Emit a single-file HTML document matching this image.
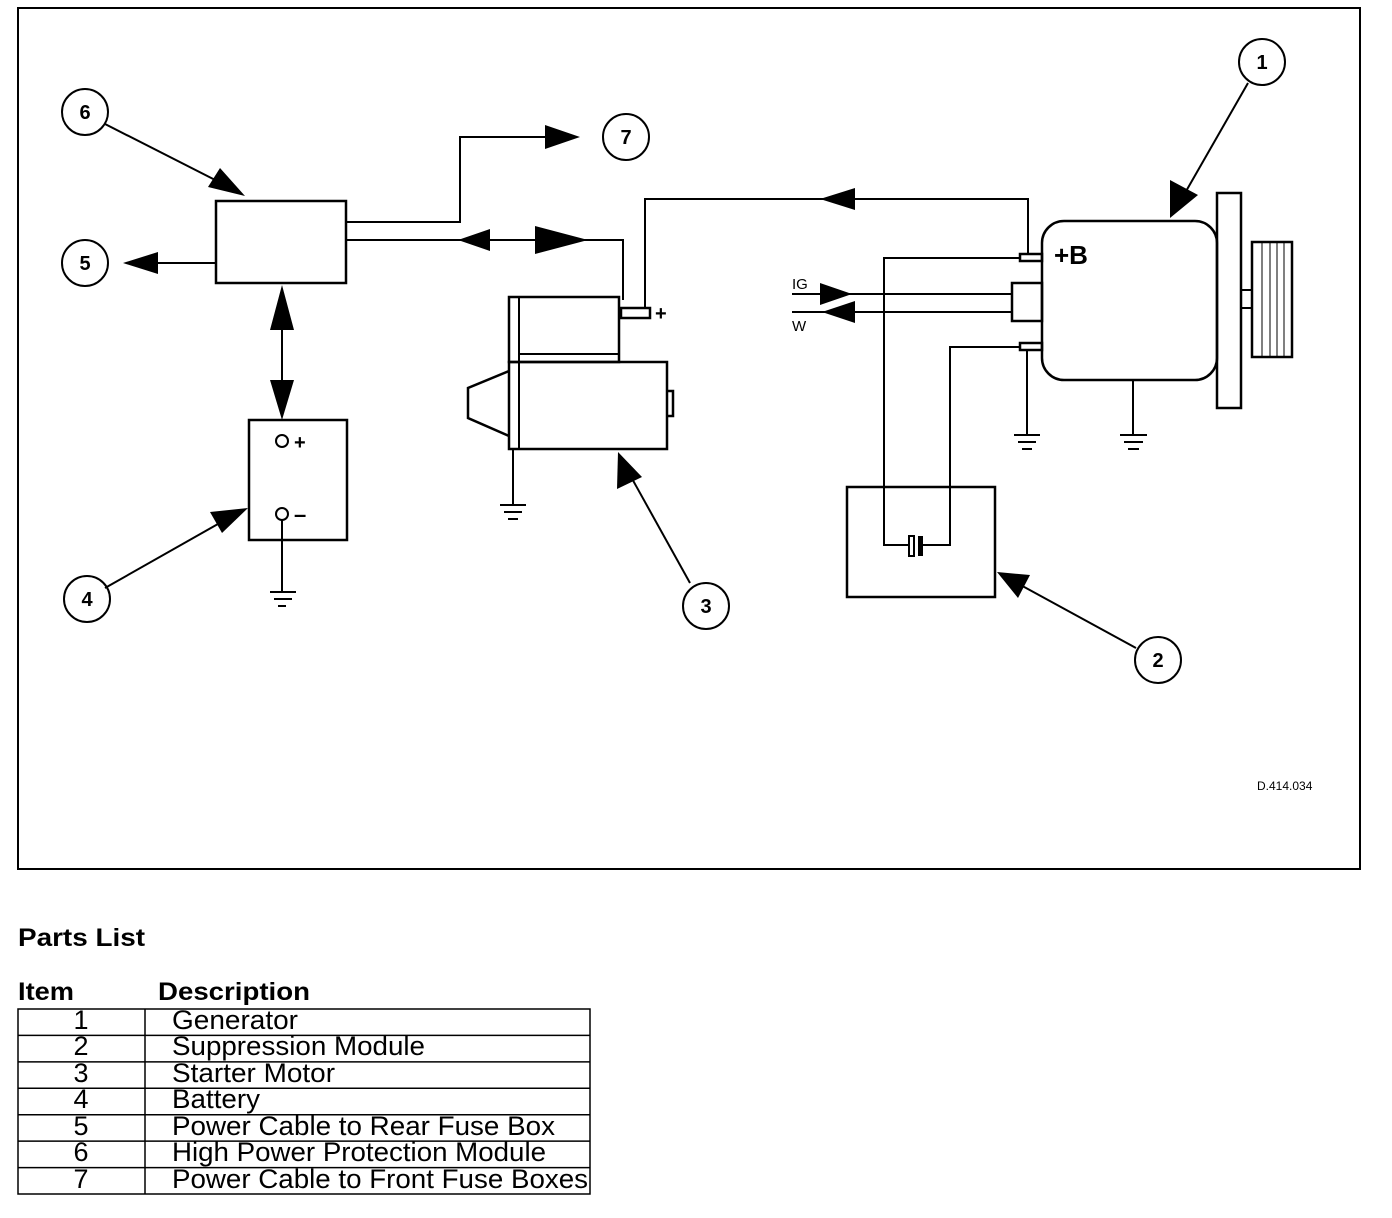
<!DOCTYPE html>
<html><head><meta charset="utf-8"><style>
html,body{margin:0;padding:0;background:#fff;}
svg{display:block;}
text{font-family:"Liberation Sans",Arial,sans-serif;fill:#000;}
</style></head><body>
<svg width="1392" height="1218" viewBox="0 0 1392 1218" xmlns="http://www.w3.org/2000/svg">
<rect x="0" y="0" width="1392" height="1218" fill="#fff"/>
<rect x="18" y="8" width="1342" height="861" fill="none" stroke="#000" stroke-width="2"/>
<g fill="none" stroke="#000" stroke-width="2">
<circle cx="1262" cy="62" r="23"/><circle cx="1158" cy="660" r="23"/><circle cx="706" cy="606" r="23"/>
<circle cx="87" cy="599" r="23"/><circle cx="85" cy="263" r="23"/><circle cx="85" cy="112" r="23"/><circle cx="626" cy="137" r="23"/>
<rect x="216" y="201" width="130" height="82" stroke-width="2.5"/>
<polyline points="346,222 460,222 460,137 560,137"/>
<polyline points="346,240 623,240 623,300"/>
<line x1="216" y1="263" x2="140" y2="263"/>
<line x1="282" y1="300" x2="282" y2="405"/>
<rect x="249" y="420" width="98" height="120" stroke-width="2.5"/>
<circle cx="282" cy="441" r="6"/><circle cx="282" cy="514" r="6"/>
<line x1="282" y1="520" x2="282" y2="592"/>
<rect x="509" y="297" width="110" height="65" stroke-width="2.5"/>
<line x1="519" y1="297" x2="519" y2="449"/>
<line x1="519" y1="354" x2="619" y2="354"/>
<rect x="509" y="362" width="158" height="87" stroke-width="2.5"/>
<polyline points="509,371 468,388 468,418 509,436" stroke-width="2.5"/>
<polyline points="667,391 673,391 673,416 667,416" stroke-width="2.5"/>
<rect x="621" y="308" width="29" height="10" stroke-width="2.5"/>
<polyline points="645,308 645,199 1028,199 1028,254"/>
<line x1="513" y1="449" x2="513" y2="505"/>
<rect x="1042" y="221" width="175" height="159" rx="22" stroke-width="2.5"/>
<rect x="1217" y="193" width="24" height="215" stroke-width="2.5"/>
<rect x="1252" y="242" width="40" height="115" stroke-width="2.5"/>
<line x1="1262" y1="242" x2="1262" y2="357" stroke-width="1"/><line x1="1270" y1="242" x2="1270" y2="357" stroke-width="1"/>
<line x1="1277" y1="242" x2="1277" y2="357" stroke-width="1"/><line x1="1284" y1="242" x2="1284" y2="357" stroke-width="1"/>
<rect x="1241" y="290" width="11" height="18" stroke-width="2"/>
<rect x="1020" y="254" width="22" height="7" stroke-width="2.5"/>
<rect x="1012" y="283" width="30" height="38" stroke-width="2.5"/>
<rect x="1020" y="343" width="22" height="7" stroke-width="2.5"/>
<polyline points="1020,258 884,258 884,545 908,545"/>
<polyline points="1020,347 950,347 950,545 922,545"/>
<rect x="909" y="536" width="5" height="20" stroke-width="2"/>
<line x1="792" y1="294" x2="1012" y2="294"/>
<line x1="792" y1="312" x2="1012" y2="312"/>
<line x1="1027" y1="350" x2="1027" y2="435"/>
<line x1="1133" y1="380" x2="1133" y2="435"/>
<rect x="847" y="487" width="148" height="110" stroke-width="2.5"/>
<line x1="1248" y1="83" x2="1185" y2="193"/>
<line x1="1136" y1="648" x2="1015" y2="582"/>
<line x1="690" y1="583" x2="630" y2="475"/>
<line x1="105" y1="588" x2="225" y2="520"/>
<line x1="105" y1="124" x2="225" y2="185"/>
<g stroke-width="2">
<line x1="270" y1="592" x2="296" y2="592"/><line x1="274" y1="599" x2="292" y2="599"/><line x1="278" y1="606" x2="286" y2="606"/>
<line x1="500" y1="505" x2="526" y2="505"/><line x1="504" y1="512" x2="522" y2="512"/><line x1="508" y1="519" x2="518" y2="519"/>
<line x1="1014" y1="435" x2="1040" y2="435"/><line x1="1018" y1="442" x2="1036" y2="442"/><line x1="1022" y1="449" x2="1032" y2="449"/>
<line x1="1120" y1="435" x2="1147" y2="435"/><line x1="1124" y1="442" x2="1143" y2="442"/><line x1="1128" y1="449" x2="1139" y2="449"/>
</g>
</g>
<g fill="#000">
<rect x="918" y="536" width="5" height="20"/>
<polygon points="580,137 545,125 545,149"/>
<polygon points="123,263 158,252 158,274"/>
<polygon points="458,240 490,229 490,251"/>
<polygon points="588,240 535,226 535,254"/>
<polygon points="282,285 270,330 294,330"/>
<polygon points="282,420 270,380 294,380"/>
<polygon points="820,199 855,188 855,210"/>
<polygon points="852,294 820,283 820,305"/>
<polygon points="822,312 855,301 855,323"/>
<polygon points="1170,218 1170,180 1198,195"/>
<polygon points="997,572 1030,575 1018,598"/>
<polygon points="618,452 617,489 642,477"/>
<polygon points="248,508 210,512 222,533"/>
<polygon points="245,196 208,187 220,168"/>
</g>
<g font-weight="bold" font-size="20" text-anchor="middle">
<text x="1262" y="69">1</text><text x="1158" y="667">2</text><text x="706" y="613">3</text>
<text x="87" y="606">4</text><text x="85" y="270">5</text><text x="85" y="119">6</text><text x="626" y="144">7</text>
</g>
<text x="1054" y="264" font-size="26" font-weight="bold">+B</text>
<text x="294" y="449" font-size="20" font-weight="bold">+</text>
<text x="294" y="522" font-size="22" font-weight="bold">–</text>
<text x="655" y="320" font-size="20" font-weight="bold">+</text>
<text x="792" y="289" font-size="15">IG</text>
<text x="792" y="331" font-size="15">W</text>
<text x="1257" y="790" font-size="12">D.414.034</text>
<text x="18" y="946" font-size="25" font-weight="bold" textLength="127" lengthAdjust="spacingAndGlyphs">Parts List</text>
<text x="18" y="1000" font-size="25" font-weight="bold" textLength="56" lengthAdjust="spacingAndGlyphs">Item</text>
<text x="158" y="1000" font-size="25" font-weight="bold" textLength="152" lengthAdjust="spacingAndGlyphs">Description</text>
<g fill="none" stroke="#000" stroke-width="1.5">
<rect x="18" y="1009" width="572" height="185"/>
<line x1="145" y1="1009" x2="145" y2="1194"/>
<line x1="18" y1="1035.4" x2="590" y2="1035.4"/><line x1="18" y1="1061.9" x2="590" y2="1061.9"/>
<line x1="18" y1="1088.3" x2="590" y2="1088.3"/><line x1="18" y1="1114.7" x2="590" y2="1114.7"/>
<line x1="18" y1="1141.1" x2="590" y2="1141.1"/><line x1="18" y1="1167.6" x2="590" y2="1167.6"/>
</g>
<g font-size="27" lengthAdjust="spacingAndGlyphs">
<text x="81" y="1029" text-anchor="middle">1</text><text x="172" y="1029" textLength="126" lengthAdjust="spacingAndGlyphs">Generator</text>
<text x="81" y="1055" text-anchor="middle">2</text><text x="172" y="1055" textLength="253" lengthAdjust="spacingAndGlyphs">Suppression Module</text>
<text x="81" y="1082" text-anchor="middle">3</text><text x="172" y="1082" textLength="163" lengthAdjust="spacingAndGlyphs">Starter Motor</text>
<text x="81" y="1108" text-anchor="middle">4</text><text x="172" y="1108" textLength="88" lengthAdjust="spacingAndGlyphs">Battery</text>
<text x="81" y="1135" text-anchor="middle">5</text><text x="172" y="1135" textLength="383" lengthAdjust="spacingAndGlyphs">Power Cable to Rear Fuse Box</text>
<text x="81" y="1161" text-anchor="middle">6</text><text x="172" y="1161" textLength="374" lengthAdjust="spacingAndGlyphs">High Power Protection Module</text>
<text x="81" y="1188" text-anchor="middle">7</text><text x="172" y="1188" textLength="416" lengthAdjust="spacingAndGlyphs">Power Cable to Front Fuse Boxes</text>
</g>
</svg>
</body></html>
